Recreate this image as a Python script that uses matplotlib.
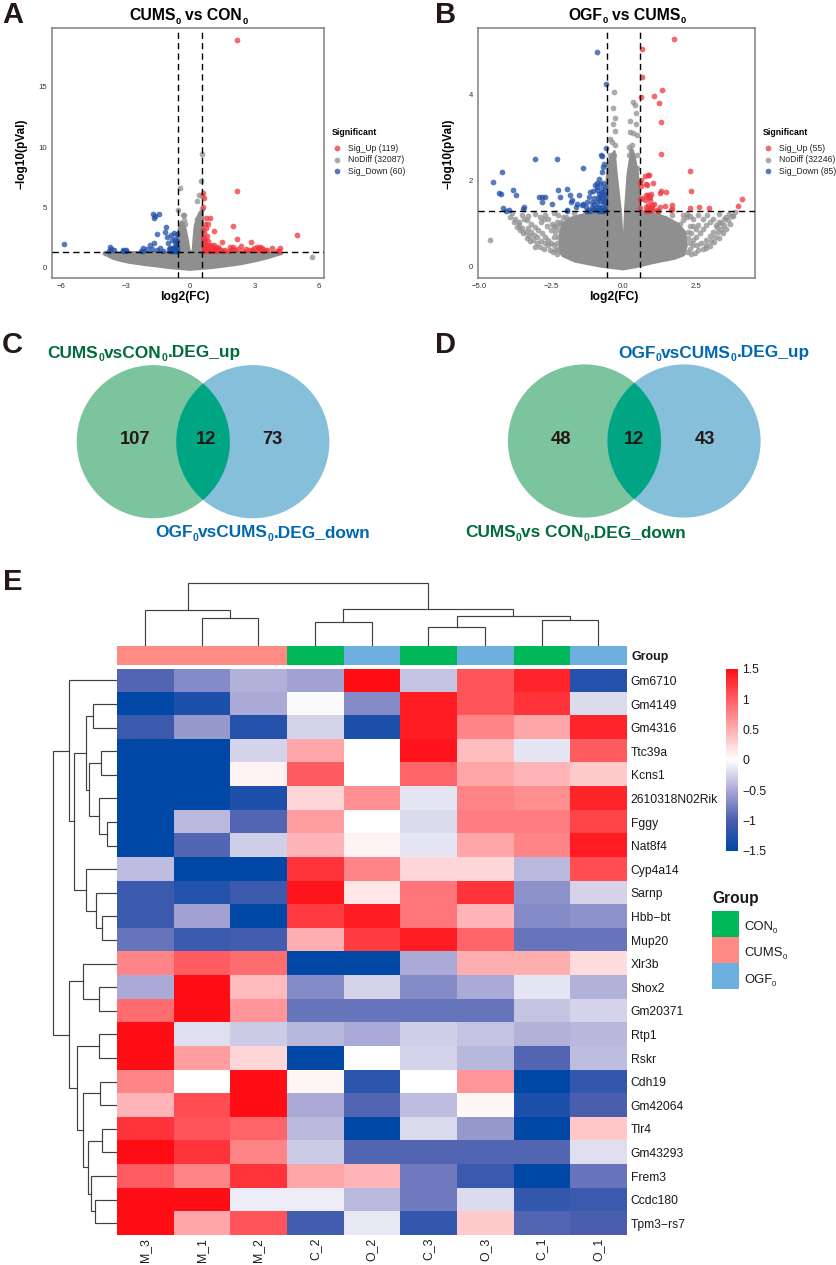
import numpy as np
import matplotlib
matplotlib.use("Agg")
import matplotlib.pyplot as plt
from matplotlib.colors import LinearSegmentedColormap, ListedColormap
from matplotlib.patches import Circle, Rectangle

plt.rcParams['font.family'] = ['Liberation Sans', 'DejaVu Sans']

W, H = 837, 1265

################################################################################
# panel A values
a_up = [(2.2,18.9),(2.19,6.38),(4.97,2.71),(1.99,3.45),(2.17,2.4),(1.13,3.07),(.62,6.16),(.67,5.8),(.61,5.0),
        (.73,4.09),(.93,4.09),(.7,3.62),(.85,3.62),(.73,3.26),(.65,2.85),(.78,2.62),(.84,2.24),(.7,2.0),(.78,1.6),
        (1.49,2.15),(2.84,2.13),(2.02,1.74),(1.86,1.7),(2.36,1.82),(2.6,1.55),(3.1,1.74),(3.26,1.74),(3.34,1.6),
        (3.5,1.46),(3.8,1.6),(4.19,1.66),(4.04,1.41),(.62,1.9),(.66,1.75),(.72,1.82),(.8,1.85),(.9,1.8),(.98,1.9),
        (1.05,1.7),(1.12,1.85),(1.2,1.65),(1.3,1.75),(.63,1.45),(.7,1.5),(.78,1.42),(.85,1.55),(.92,1.4),(1.0,1.5),
        (1.08,1.42),(1.15,1.5),(1.25,1.42),(1.35,1.55),(1.45,1.45),(1.55,1.4),(1.65,1.5),(1.8,1.42),(1.95,1.55),
        (2.1,1.45),(2.25,1.55),(2.45,1.42),(2.75,1.45),(2.9,1.5),(3.0,1.65),(3.15,1.45),(3.2,1.6),(3.4,1.4),
        (3.6,1.45),(.65,2.2),(.62,2.5),(.72,2.35),(.62,3.1),(4.15,1.4)]
a_down = [(-5.88,1.99),(-1.72,4.42),(-1.65,4.28),(-1.69,4.12),(-1.43,4.42),(-1.1,3.37),(-1.16,2.98),(-1.55,2.79),
          (-1.09,2.51),(-.89,2.71),(-.75,2.9),(-.62,2.79),(-1.66,2.02),(-1.86,1.85),(-1.04,2.07),(-.85,2.29),
          (-3.73,1.69),(-3.79,1.41),(-3.54,1.46),(-3.14,1.49),(-2.98,1.46),(-3.0,1.36),(-2.2,1.66),(-2.17,1.41),
          (-2.02,1.52),(-1.75,1.52),(-1.55,1.46),(-1.4,1.6),(-1.24,1.36),(-1.0,1.52),(-.78,1.6),(-.7,1.75),
          (-.92,1.4),(-.85,1.6),(-.65,1.9),(-.62,2.2),(-.7,2.1),(-.78,1.36),(-.65,1.4),(-.62,1.6),(-.7,1.5),
          (-.82,1.45),(-.95,1.6),(-.68,2.35),(-.6,1.35),(-.73,1.35),(-.88,1.36),(-2.3,1.36),(-3.7,1.55),(-3.1,1.36)]
a_nodiff = [(5.67,.86),(-.45,6.57),(.54,9.45),(.53,7.2),(.42,6.02),(.57,5.97),(.34,5.5),(-.57,4.75),(-.34,4.36),
            (-.28,4.36),(-.28,3.95),(.47,4.5),(.54,4.83),(.43,4.28),(.34,4.0),(-.23,3.62),(-3.95,1.2)]
a_cloud_x = [-4.05,-3.0,-1.5,-.6,-.6,-.52,-.42,-.3,-.2,-.1,-.02,.12,.17,.22,.35,.5,.6,.6,1.5,3.0,4.1,4.3,
             4.0,3.6,3.2,2.8,2.4,2.0,1.5,1.0,.5,0,-.5,-1.0,-1.5,-2.0,-2.4,-2.8,-3.2,-3.6]
a_cloud_y = [1.18,1.3,1.3,1.3,2.3,3.3,3.8,3.7,3.2,2.3,1.4,1.3,2.5,3.5,4.2,4.6,4.7,1.3,1.3,1.3,1.3,1.15,
             1.0,.78,.6,.45,.3,.2,.08,-.03,-.1,-.17,-.1,-.02,.1,.2,.3,.4,.55,.75]
a_xticks = [-6,-3,0,3,6]
a_xlabels = ["\u22126","\u22123","0","3","6"]
a_yticks = [0,5,10,15]
a_counts = [119,32087,60]

# panel B values
b_up = [(1.75,5.29),(.65,5.06),(.66,4.41),(.6,3.95),(1.33,4.1),(1.08,3.98),(1.25,3.81),(1.3,3.36),(1.29,2.63),
        (2.32,2.22),(2.36,1.76),(4.12,1.58),(3.98,1.41),(2.3,1.37),(2.61,1.38),(2.96,1.37),(1.48,1.73),(1.29,1.77),
        (1.26,1.72),(1.03,1.94),(.9,2.13),(.87,2.13),(.74,2.12),(.63,2.02),(.59,1.94),(.78,1.92),(.83,1.9),(.6,1.88),
        (.95,1.7),(.87,1.68),(.78,1.67),(.58,1.57),(.75,1.55),(.92,1.55),(1.07,1.47),(.98,1.43),(.87,1.43),(.78,1.38),
        (.58,1.36),(.92,1.36),(.81,1.32),(.98,1.32),(1.15,1.32),(1.27,1.38),(1.44,1.41),(1.7,1.43),(1.64,1.32),
        (1.67,1.34),(.85,1.62),(.92,1.62),(.66,1.6),(.8,1.3),(.9,1.3),(1.0,1.36),(1.2,1.3)]
b_down = [(-.92,5.0),(-.61,4.25),(-3.06,2.5),(-2.31,2.5),(-1.38,2.29),(-4.2,2.2),(-4.52,1.98),(-4.29,1.72),(-4.24,1.7),
          (-3.82,1.78),(-3.73,1.67),(-4.15,1.36),(-4.05,1.3),(-3.94,1.33),(-3.46,1.34),(-3.43,1.38),(-2.93,1.63),
          (-2.81,1.63),(-2.71,1.62),(-2.83,1.5),(-2.46,1.47),(-2.25,1.78),(-2.18,1.63),(-1.96,1.81),(-1.86,1.67),
          (-1.79,1.55),(-1.82,1.51),(-1.96,1.32),(-1.61,1.47),(-1.64,1.4),(-1.52,1.67),(-1.38,1.47),(-1.42,1.43),
          (-1.27,1.51),(-1.21,1.32),(-1.15,1.74),(-1.1,1.51),(-1.06,1.77),(-.98,1.9),(-.92,1.94),(-.83,2.04),
          (-.92,1.78),(-.78,2.6),(-.75,2.57),(-.61,2.76),(-.66,2.4),(-.69,2.33),(-.75,2.2),(-.88,1.6),(-.8,1.62),
          (-.72,1.6),(-.65,1.62),(-.9,1.5),(-.82,1.52),(-.7,1.5),(-.62,1.5),(-.92,1.4),(-.85,1.38),(-.75,1.4),
          (-.65,1.4),(-.95,1.32),(-.8,1.32),(-.7,1.32),(-.62,1.32),(-1.0,1.45),(-.65,1.7),(-.7,1.75),(-.75,1.8),
          (-.65,1.85),(-.7,1.95),(-1.25,1.3),(-1.15,1.3),(-1.95,1.3),(-1.0,1.6),(-1.1,1.4),(-1.2,1.62),(-1.3,1.4),
          (-.85,1.7),(-.78,1.72),(-.85,1.3),(-.75,1.3),(-.66,1.3),(-.9,1.85),(-.8,1.92),(-1.05,1.35)]
b_nodiff = [(-4.6,.62),(-.32,4.07),(-.35,3.68),(-.3,3.45),(-.37,3.31),(-.3,3.15),(-.46,2.98),(-.4,2.9),(-.29,2.83),
            (-.46,2.61),(-.31,2.61),(-.52,2.36),(-.4,2.29),(.35,3.84),(.4,3.75),(.44,3.57),(.44,3.33),(.23,3.39),(.23,3.14),
            (.35,3.1),(.46,3.06),(.21,2.79),(.29,2.83),(.48,2.61),(.46,2.29),(.25,2.7),(.2,2.6),
            (-3.92,1.16),(-3.8,1.05),(-3.69,.93),(-3.58,.85),(-3.46,.78),(-3.35,.68),(-3.22,.6),(-3.06,.47),(-2.9,.45),
            (-2.75,.42),(-2.55,.38),(-2.42,.35),(-2.3,.3),(-3.34,1.09),(-3.2,1.0),(-3.06,.93),(-2.95,.85),(-2.83,.78),
            (-2.7,.7),(-2.6,.62),(-2.5,.55),(-2.71,1.2),(-2.6,1.1),(-2.48,1.0),(-2.33,.92),(-2.19,.85),(-2.05,.75),
            (-3.85,1.25),(-3.6,1.05),(-3.45,1.1),(-2.85,1.05),(-2.4,1.25),(-2.25,1.2),(-2.1,1.15),(-2.4,.7),(-2.3,.55),
            (-3.5,1.2),(-3.3,1.18),(-3.05,1.22),(-2.9,1.15),(-2.75,1.1),(-2.65,.95),(-2.5,.85),(-2.4,.95),(-2.35,.8),
            (-2.25,.7),(-2.15,.6),(-2.3,1.05),(-2.2,1.0),(-2.15,1.05),(-2.4,.5),(-2.25,.42),(-2.35,.38),(-2.15,.35),
            (-2.6,.5),(-2.7,.55),(-2.85,.6),(-3.0,.7),(-3.1,.75),(-3.2,.8),(-3.3,.9),(-3.75,1.12),(-3.62,.98),(-3.5,.9),
            (-3.38,.8),(-3.25,.72),(-3.12,.62),(-2.98,.55),
            (-2.0,1.15),(-1.7,1.25),(-1.3,1.25),(-.9,1.3),(1.2,1.25),(1.7,1.2),
            (3.86,1.28),(3.75,1.18),(3.63,1.08),(3.5,.98),(3.4,.89),(3.28,.8),(3.17,.7),(3.02,.6),(2.88,.5),(2.75,.42),
            (2.6,.38),(2.48,.31),(2.35,.3),(3.11,1.12),(3.0,1.05),(2.88,.97),(2.77,.88),(2.65,.78),(2.53,.7),(2.42,.62),
            (2.3,.55),(2.19,1.16),(2.08,1.08),(1.96,1.0),(2.4,1.1),(2.3,.95),(2.25,.8),(2.6,1.2),(3.3,1.22),(3.55,1.15),
            (3.3,1.05),(3.2,.98),(2.9,1.2),(2.75,1.1),(2.6,.98),(2.5,.88),(2.4,.95),(2.35,.78),(2.25,.68),(2.4,.5),
            (2.3,.42),(2.2,.35),(2.55,.5),(2.7,.55),(2.85,.62),(3.0,.72),(3.1,.82),(3.25,.92),(3.4,1.02),(3.5,1.12),
            (3.65,1.22),(3.8,1.18),(3.7,1.0),(3.55,.88),(3.45,.78),(3.3,.68),(3.15,.58),(3.0,.48),(2.85,.44),(2.2,1.22),
            (2.05,1.2),(2.3,1.18)]
b_cloud_x = [-2.2,-2.1,-1.9,-1.5,-1.0,-.6,-.6,-.55,-.45,-.3,-.23,-.09,-.03,.03,.06,.15,.29,.38,.5,.58,.6,1.0,1.5,1.9,
             2.15,2.2,2.1,1.79,.98,.5,0,-.75,-1.67,-2.1,-2.2]
b_cloud_y = [.75,1.0,1.12,1.2,1.27,1.3,1.8,2.3,2.55,2.7,2.17,1.32,.74,.74,1.32,2.17,2.75,2.6,2.2,1.5,1.3,1.25,1.15,1.0,
             .8,.5,.27,.19,.08,.0,-.06,0,.12,.25,.4]
b_xticks = [-5.0,-2.5,0.0,2.5]
b_xlabels = ["\u22125.0","\u22122.5","0.0","2.5"]
b_yticks = [0,2,4]
b_counts = [55,32246,85]

# venn counts
c_counts = [107,12,73]
d_counts = [48,12,43]

# heatmap
samples = ["M_3","M_1","M_2","C_2","O_2","C_3","O_3","C_1","O_1"]
sample_group = [1,1,1,0,2,0,2,0,2]
group_names = ["CON", "CUMS", "OGF"]
genes = ["Gm6710","Gm4149","Gm4316","Ttc39a","Kcns1","2610318N02Rik","Fggy","Nat8f4","Cyp4a14","Sarnp",
         "Hbb\u2212bt","Mup20","Xlr3b","Shox2","Gm20371","Rtp1","Rskr","Cdh19","Gm42064","Tlr4","Gm43293",
         "Frem3","Ccdc180","Tpm3\u2212rs7"]
expr = [[-.95,-.7,-.45,-.55,1.5,-.35,1.05,1.35,-1.25],
        [-1.5,-1.3,-.5,-.03,-.7,1.4,1.05,1.25,-.2],
        [-1.1,-.6,-1.25,-.25,-1.3,1.4,.75,.55,1.35],
        [-1.5,-1.5,-.25,.55,0,1.45,.4,-.15,1.0],
        [-1.5,-1.5,.08,1.0,.01,.95,.55,.45,.32],
        [-1.5,-1.5,-1.3,.25,.7,-.15,.75,.7,1.35],
        [-1.5,-.4,-.95,.6,.01,-.2,.8,.8,1.15],
        [-1.5,-.95,-.28,.45,.08,-.15,.55,.75,1.4],
        [-.38,-1.5,-1.5,1.25,.75,.25,.25,-.4,1.1],
        [-1.1,-1.25,-1.1,1.45,.15,.85,1.25,-.65,-.25],
        [-1.1,-.55,-1.5,1.2,1.4,.85,.45,-.7,-.65],
        [-.85,-1.1,-1.05,.5,1.2,1.4,.95,-.85,-.85],
        [.75,1.0,.9,-1.5,-1.5,-.5,.5,.5,.2],
        [-.5,1.5,.42,-.7,-.25,-.7,-.5,-.15,-.45],
        [.9,1.5,.65,-.85,-.85,-.85,-.85,-.35,-.25],
        [1.5,-.18,-.3,-.42,-.5,-.28,-.35,-.45,-.42],
        [1.5,.6,.25,-1.5,.01,-.25,-.42,-.95,-.38],
        [.75,.01,1.5,.05,-1.2,.01,.65,-1.5,-1.15],
        [.45,1.1,1.5,-.5,-.95,-.38,.05,-1.3,-1.0],
        [1.25,1.05,.95,-.4,-1.5,-.2,-.6,-1.5,.35],
        [1.5,1.25,.75,-.3,-.95,-.95,-.95,-.95,-.18],
        [1.0,.75,1.25,.55,.45,-.8,-1.1,-1.5,-.85],
        [1.5,1.5,-.1,-.1,-.4,-.8,-.2,-1.15,-1.1],
        [1.5,.55,1.05,-1.05,-.13,-1.15,.32,-.95,-1.0]]

# dendrograms: (left, right, height), ids >= n refer to earlier merges in the list
col_merges = [(1,2,28),(0,9,35.7),(3,4,24.3),(5,6,19.3),(7,8,25.7),(12,13,30.3),(11,14,37.3),(10,15,63)]
row_merges = [(1,2,23.5),(3,4,16),(6,7,10),(5,26,17.5),(25,27,28),(24,28,30.8),(10,11,14.8),(9,30,20.5),(8,31,31),
              (29,32,42.8),(0,33,47.5),(13,14,17.5),(12,35,33.5),(15,16,17.5),(17,18,17),(19,20,14.5),(22,23,22),
              (21,40,26),(39,41,28.5),(38,42,34),(37,43,40),(36,44,48),(34,45,63.5)]

################################################################################
RED, GREY, BLUE = "#F03539", "#8F8F8F", "#1F4FA8"
TXT = "#231815"
fig = plt.figure(figsize=(W/100, H/100), dpi=100)
renderer = fig.canvas.get_renderer()

def px_axes(x0, y0, x1, y1):
    return fig.add_axes([x0/W, 1-y1/H, (x1-x0)/W, (y1-y0)/H])

# overlay in picture pixels, for the letters, venns and legends
over = fig.add_axes([0, 0, 1, 1], zorder=5)
over.set_xlim(0, W); over.set_ylim(H, 0); over.axis('off')

def sub_text(x, y, parts, size, color="black", weight='bold'):
    # parts alternate normal text and subscript, laid out one after the other
    px = size * 100 / 72
    for i, part in enumerate(parts):
        is_sub = i % 2 == 1
        lead = len(part) - len(part.lstrip(" "))
        trail = len(part) - len(part.rstrip(" "))
        x += lead * .278 * px
        t = over.text(x, y + (.22 * px if is_sub else 0), part.strip(" "), fontsize=size * (.6 if is_sub else 1),
                      fontweight=weight, color=color, ha='left', va='baseline')
        x += t.get_window_extent(renderer).width + trail * .278 * px

def volcano(box, xlim, ylim, up, nodiff, down, cloud_x, cloud_y, xticks, xlabels, yticks, counts, leg_x):
    ax = px_axes(*box)
    ax.fill(cloud_x, cloud_y, color=GREY, lw=1.5, zorder=2)
    ax.scatter(*np.array(nodiff).T, s=17, color=GREY, alpha=.75, lw=0, zorder=2)
    ax.scatter(*np.array(up).T, s=17, color=RED, alpha=.75, lw=0, zorder=3)
    ax.scatter(*np.array(down).T, s=17, color=BLUE, alpha=.75, lw=0, zorder=3)
    for x in (-.58, .58):
        ax.axvline(x, color="black", lw=1.0, dashes=(4.5, 3), zorder=4)
    ax.axhline(1.3, color="black", lw=1.0, dashes=(4.5, 3), zorder=4)
    ax.set_xlim(*xlim); ax.set_ylim(*ylim)
    ax.set_xticks(xticks); ax.set_xticklabels(xlabels)
    ax.set_yticks(yticks)
    ax.tick_params(length=0, labelsize=5.6, labelcolor="#333333", pad=3.5)
    for s in ax.spines.values():
        s.set_color("#808080"); s.set_linewidth(1.1)
    over.text((box[0]+box[2])/2 - 3, 297, "log2(FC)", ha='center', va='center', fontsize=8.7, fontweight='bold')
    over.text(box[0]-30, 154, "\u2212log10(pVal)", rotation=90, ha='center', va='center', fontsize=8.5, fontweight='bold')
    # legend
    over.text(leg_x, 132.3, "Significant", fontsize=6.3, fontweight='bold', ha='left', va='center')
    labels = ["Sig_Up (%d)" % counts[0], "NoDiff (%d)" % counts[1], "Sig_Down (%d)" % counts[2]]
    for lab, col, y in zip(labels, (RED, GREY, BLUE), (148.2, 159.6, 171.1)):
        over.scatter([leg_x + 5.7], [y], s=17, color=col, alpha=.75, lw=0)
        over.text(leg_x + 16, y, lab, fontsize=6.2, color="#222222", ha='left', va='center')
    return ax

volcano((51.7, 28, 324, 278), (-6.44, 6.24), (-.85, 19.86), a_up, a_nodiff, a_down, a_cloud_x, a_cloud_y,
        a_xticks, a_xlabels, a_yticks, a_counts, 331.7)
volcano((478.3, 28, 755, 278), (-5.02, 4.56), (-.26, 5.55), b_up, b_nodiff, b_down, b_cloud_x, b_cloud_y,
        b_xticks, b_xlabels, b_yticks, b_counts, 762.7)
over.set_xlim(0, W); over.set_ylim(H, 0)
sub_text(129.3, 20.5, ["CUMS", "0", " vs CON", "0"], 11.35)
sub_text(568.3, 19.8, ["OGF", "0", " vs CUMS", "0"], 11.35)

# panel letters
for s, x, y in [("A", 2, 23), ("B", 435, 23), ("C", 2, 353), ("D", 435, 353), ("E", 3, 590)]:
    over.text(x, y, s, fontsize=21, fontweight='bold', color=TXT, ha='left', va='baseline')

################################################################################
# venns
def venn(cx1, cx2, cy, counts, num_x):
    r = 76.6
    over.add_patch(Circle((cx1, cy), r, fc="#7CC49E", ec='none'))
    over.add_patch(Circle((cx2, cy), r, fc="#85BFD9", ec='none'))
    mid = Circle((cx1, cy), r, fc="#00A583", ec='none')
    over.add_patch(mid)
    mid.set_clip_path(Circle((cx2, cy), r, transform=over.transData))
    for n, x in zip(counts, num_x):
        over.text(x, cy-2, str(n), ha='center', va='center', fontsize=13.2, fontweight='bold', color=TXT)

GRN, BLU = "#006B3C", "#0068B0"
venn(153.3, 252.8, 441.7, c_counts, (135, 206, 272.7))
venn(584.5, 684, 441, d_counts, (561.3, 633.7, 705))
sub_text(47.7, 357.5, ["CUMS", "0", "vsCON", "0", ".DEG_up"], 12.45, GRN)
sub_text(155, 537.3, ["OGF", "0", "vsCUMS", "0", ".DEG_down"], 12.45, BLU)
sub_text(618, 357.5, ["OGF", "0", "vsCUMS", "0", ".DEG_up"], 12.45, BLU)
sub_text(465, 536.7, ["CUMS", "0", "vs CON", "0", ".DEG_down"], 12.45, GRN)

################################################################################
# heatmap
hx0, hx1, hy0, hy1 = 116.8, 626.7, 668.7, 1235
cmap = LinearSegmentedColormap.from_list("hm", [(0, "#0047A6"), (1/6, "#4A5FB0"), (1/3, "#ABA9D6"), (5/12, "#D5D4EB"),
                                                 (.5, "#FFFFFF"), (1, "#FF0D14")])
ax = px_axes(hx0, hy0, hx1, hy1)
mesh = ax.imshow(np.array(expr), cmap=cmap, vmin=-1.5, vmax=1.5, aspect='auto', interpolation='nearest')
ax.set_xticks(range(len(samples))); ax.set_xticklabels(samples, rotation=90, fontsize=8.8, color="#1a1a1a")
ax.yaxis.tick_right()
ax.set_yticks(range(len(genes))); ax.set_yticklabels(genes, fontsize=8.7, color="#1a1a1a")
ax.tick_params(length=0, axis='y', pad=2.8)
ax.tick_params(length=0, axis='x', pad=2)
for s in ax.spines.values():
    s.set_visible(False)

# group bar
group_colors = ["#00B858", "#FF8B84", "#6DB0E0"]
ann = px_axes(hx0, 646, hx1, 664.7)
ann.imshow(np.array([sample_group]), cmap=ListedColormap(group_colors), vmin=0, vmax=2, aspect='auto', interpolation='nearest')
ann.axis('off')
over.text(631.3, 656.7, "Group", fontsize=8.9, fontweight='bold', ha='left', va='center', color="#1a1a1a")

def dendro(ax, n, merges, horizontal):
    pos = {i: (i + .5, 0.0) for i in range(n)}
    for k, (a, b, h) in enumerate(merges):
        pa, ha = pos[a]
        pb, hb = pos[b]
        xs, ys = [pa, pa, pb, pb], [ha, h, h, hb]
        if horizontal:
            ax.plot(ys, xs, color="#404040", lw=.85, solid_joinstyle='miter')
        else:
            ax.plot(xs, ys, color="#404040", lw=.85, solid_joinstyle='miter')
        pos[n + k] = ((pa + pb) / 2, h)

top = px_axes(hx0, 580, hx1, 646)
top.set_xlim(0, 9); top.set_ylim(0, 66); top.axis('off')
dendro(top, 9, col_merges, False)

side = px_axes(50, hy0, hx0, hy1)
side.set_xlim(hx0-50, 0); side.set_ylim(24, 0); side.axis('off')
dendro(side, 24, row_merges, True)

# colorbar
cax = px_axes(726, 668.7, 738.3, 850.7)
cb = fig.colorbar(mesh, cax=cax, ticks=[1.5,1,.5,0,-.5,-1,-1.5])
cb.ax.set_yticklabels(["1.5","1","0.5","0","\u22120.5","\u22121","\u22121.5"], fontsize=8.7, color="#1a1a1a")
cb.ax.tick_params(length=0, pad=3)
cb.outline.set_visible(False)

# group legend
over.text(712.3, 899, "Group", fontsize=11.2, fontweight='bold', ha='left', va='center', color="#1a1a1a")
for i, (g, c) in enumerate(zip(group_names, group_colors)):
    over.add_patch(Rectangle((712.3, 911 + 26.1*i), 26.4, 26.1, fc=c, ec='none'))
    sub_text(744, 930.3 + 26.2*i, [g, "0"], 9.4, "#1a1a1a", 'normal')

fig.savefig("out.png", dpi=100)
